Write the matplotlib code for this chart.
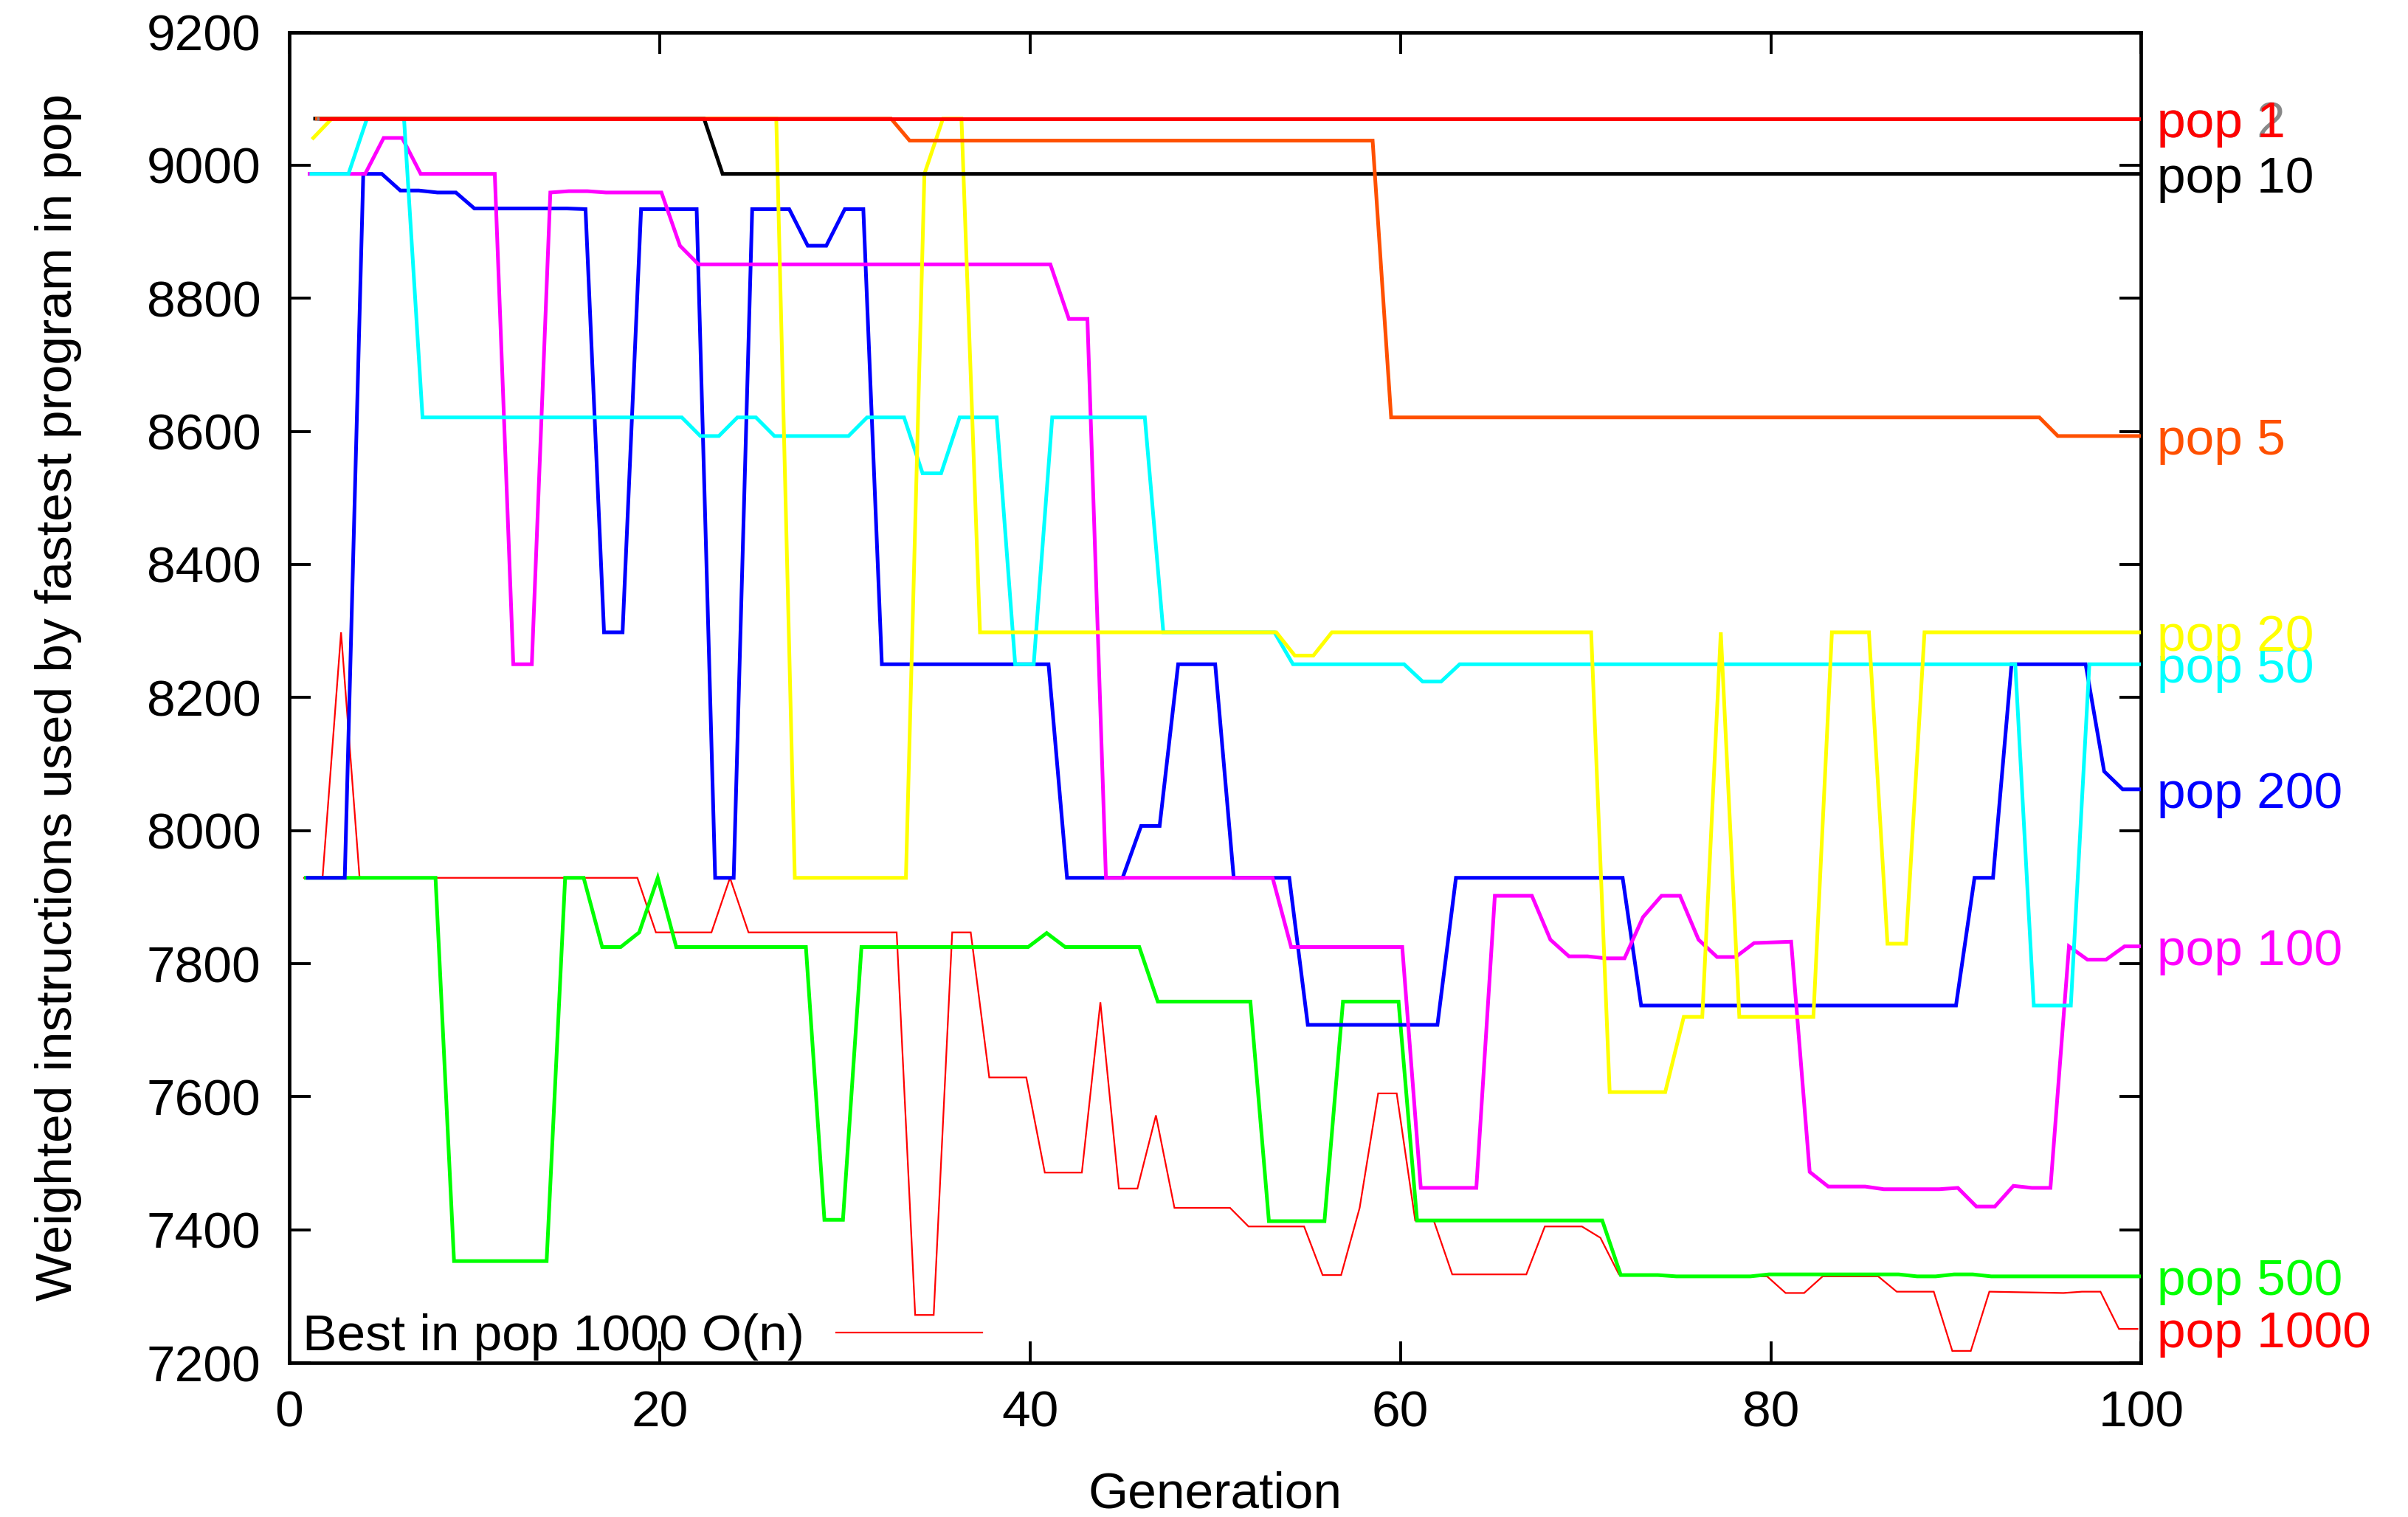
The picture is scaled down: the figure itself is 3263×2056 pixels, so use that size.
import matplotlib
matplotlib.use("Agg")
import matplotlib.pyplot as plt
from matplotlib import transforms

plt.rcParams["font.family"] = ["Liberation Sans", "DejaVu Sans"]

# Best program per generation, one run per population size.
# Only the generations where the value changes are listed; the line joins them.
GEN_POP1 = [1, 100]
VAL_POP1 = [9070, 9070]

GEN_POP2 = [1, 100]
VAL_POP2 = [9070, 9070]

GEN_POP5 = [1, 32, 33, 58, 59, 94, 95, 100]
VAL_POP5 = [9070, 9070, 9037, 9037, 8621, 8621, 8593, 8593]

GEN_POP10 = [1, 22, 23, 100]
VAL_POP10 = [9070, 9070, 8987, 8987]

GEN_POP20 = [1, 2, 26, 27, 33, 34, 35, 36, 37, 53, 54, 55, 56, 70, 71, 74, 75,
             76, 77, 78, 82, 83, 85, 86, 87, 88, 100]
VAL_POP20 = [9041, 9070, 9070, 7929, 7929, 8987, 9070, 9070, 8298, 8298, 8263,
             8263, 8298, 8298, 7607, 7607, 7720, 7720, 8298, 7720, 7720, 8298,
             8298, 7830, 7830, 8298, 8298]

GEN_POP50 = [1, 3, 4, 6, 7, 21, 22, 23, 24, 25, 26, 30, 31, 33, 34, 35, 36, 38,
             39, 40, 41, 46, 47, 53, 54, 60, 61, 62, 63, 93, 94, 96, 97, 100]
VAL_POP50 = [8987, 8987, 9070, 9070, 8621, 8621, 8593, 8593, 8621, 8621, 8593,
             8593, 8621, 8621, 8537, 8537, 8621, 8621, 8250, 8250, 8621, 8621,
             8298, 8298, 8250, 8250, 8224, 8224, 8250, 8250, 7737, 7737, 8250,
             8250]

GEN_POP100 = [1, 4, 5, 6, 7, 11, 12, 13, 14, 15, 16, 17, 20, 21, 22, 41, 42, 43,
              44, 53, 54, 60, 61, 64, 65, 67, 68, 69, 70, 71, 72, 73, 74, 75, 76,
              77, 78, 79, 81, 82, 83, 85, 86, 89, 90, 91, 92, 93, 94, 95, 96, 97,
              98, 99, 100]
VAL_POP100 = [8987, 8987, 9041, 9041, 8987, 8987, 8250, 8250, 8959, 8961, 8961,
              8959, 8959, 8879, 8851, 8851, 8769, 8769, 7929, 7929, 7825, 7825,
              7463, 7463, 7902, 7902, 7836, 7811, 7811, 7808, 7808, 7870, 7902,
              7902, 7836, 7810, 7810, 7831, 7833, 7487, 7465, 7465, 7461, 7461,
              7463, 7435, 7435, 7466, 7463, 7463, 7826, 7806, 7806, 7826, 7826]

GEN_POP200 = [1, 3, 4, 5, 6, 7, 8, 9, 10, 15, 16, 17, 18, 19, 22, 23, 24, 25, 27,
              28, 29, 30, 31, 32, 41, 42, 45, 46, 47, 48, 50, 51, 54, 55, 62, 63,
              72, 73, 90, 91, 92, 93, 97, 98, 99, 100]
VAL_POP200 = [7929, 7929, 8987, 8987, 8962, 8962, 8959, 8959, 8935, 8935, 8934,
              8298, 8298, 8934, 8934, 7929, 7929, 8934, 8934, 8879, 8879, 8934,
              8934, 8250, 8250, 7929, 7929, 8007, 8007, 8250, 8250, 7929, 7929,
              7708, 7708, 7929, 7929, 7737, 7737, 7929, 7929, 8250, 8250, 8089,
              8062, 8062]

GEN_POP500 = [1, 8, 9, 14, 15, 16, 17, 18, 19, 20, 21, 28, 29, 30, 31, 40, 41,
              42, 46, 47, 52, 53, 56, 57, 60, 61, 71, 72, 74, 75, 79, 80, 87, 88,
              89, 90, 91, 92, 100]
VAL_POP500 = [7929, 7929, 7353, 7353, 7929, 7929, 7825, 7825, 7847, 7929, 7825,
              7825, 7415, 7415, 7825, 7825, 7846, 7825, 7825, 7743, 7743, 7413,
              7413, 7743, 7743, 7414, 7414, 7332, 7332, 7330, 7330, 7333, 7333,
              7330, 7330, 7333, 7333, 7330, 7330]

GEN_POP1000 = [1, 2, 3, 4, 19, 20, 23, 24, 25, 33, 34, 35, 36, 37, 38, 40, 41,
               43, 44, 45, 46, 47, 48, 51, 52, 55, 56, 57, 58, 59, 60, 61, 62, 63,
               67, 68, 70, 71, 72, 74, 75, 80, 81, 82, 83, 86, 87, 89, 90, 91, 92,
               96, 97, 98, 99, 100]
VAL_POP1000 = [7929, 7929, 8298, 7929, 7929, 7847, 7847, 7929, 7847, 7847, 7272,
               7272, 7847, 7847, 7629, 7629, 7486, 7486, 7742, 7462, 7462, 7572,
               7433, 7433, 7405, 7405, 7332, 7332, 7433, 7605, 7605, 7414, 7414,
               7333, 7333, 7405, 7405, 7388, 7333, 7332, 7330, 7330, 7305, 7305,
               7330, 7330, 7307, 7307, 7218, 7218, 7307, 7305, 7307, 7307, 7251,
               7251]

X_TICKS = [0, 20, 40, 60, 80, 100]
Y_TICKS = [7200, 7400, 7600, 7800, 8000, 8200, 8400, 8600, 8800, 9000, 9200]

# drawn bottom to top; each run is nudged sideways a little, gnuplot-style
RUNS = [
    ("1000", GEN_POP1000, VAL_POP1000, "#ff0000", 0.8, -0.2),
    ("500", GEN_POP500, VAL_POP500, "#00ff00", 1.8, -0.1),
    ("200", GEN_POP200, VAL_POP200, "#0000ff", 1.8, 0.0),
    ("100", GEN_POP100, VAL_POP100, "#ff00ff", 1.8, 0.1),
    ("50", GEN_POP50, VAL_POP50, "#00ffff", 1.8, 0.2),
    ("20", GEN_POP20, VAL_POP20, "#ffff00", 1.8, 0.3),
    ("10", GEN_POP10, VAL_POP10, "#000000", 1.8, 0.4),
    ("5", GEN_POP5, VAL_POP5, "#ff5000", 1.8, 0.5),
    ("2", GEN_POP2, VAL_POP2, "#888888", 1.8, 0.6),
    ("1", GEN_POP1, VAL_POP1, "#ff0000", 1.8, 0.7),
]

FS = 25

fig = plt.figure(figsize=(16.315, 10.28), dpi=200)
ax = fig.add_axes([0.1201, 0.1016, 0.7691, 0.8772])

edge = transforms.blended_transform_factory(ax.transAxes, ax.transData)
legend_line = None
for i, (name, gens, vals, color, lw, shift) in enumerate(RUNS):
    (line,) = ax.plot([g + shift for g in gens], vals, color=color, lw=lw,
                      zorder=2 + i, solid_joinstyle="miter")
    if name == "1000":
        legend_line = line
    ax.annotate(f"pop {name}", xy=(1, vals[-1]), xycoords=edge,
                xytext=(7.6, -9.0), textcoords="offset points",
                ha="left", va="baseline", color=color, fontsize=FS,
                annotation_clip=False)

ax.set_xlim(0, 100)
ax.set_ylim(7200, 9200)
ax.set_xticks(X_TICKS)
ax.set_yticks(Y_TICKS)
ax.tick_params(direction="in", length=10.4, width=1.4, top=True, right=True,
               labelsize=FS)
ax.tick_params(axis="x", pad=13)
ax.tick_params(axis="y", pad=13.8)
for sp in ax.spines.values():
    sp.set_linewidth(1.7)

ax.set_xlabel("Generation", fontsize=FS)
ax.xaxis.set_label_coords(0.5, -0.081)
ax.set_ylabel("Weighted instructions used by fastest program in pop", fontsize=FS)
ax.yaxis.set_label_coords(-0.112, 0.5)

ax.legend([legend_line], ["Best in pop 1000 O(n)"], loc="lower left",
          bbox_to_anchor=(0.0072, 0.0018), borderaxespad=0, borderpad=0,
          frameon=False, markerfirst=False, handlelength=2.85,
          handletextpad=0.62, fontsize=FS)

fig.savefig("out.png", dpi=200)
